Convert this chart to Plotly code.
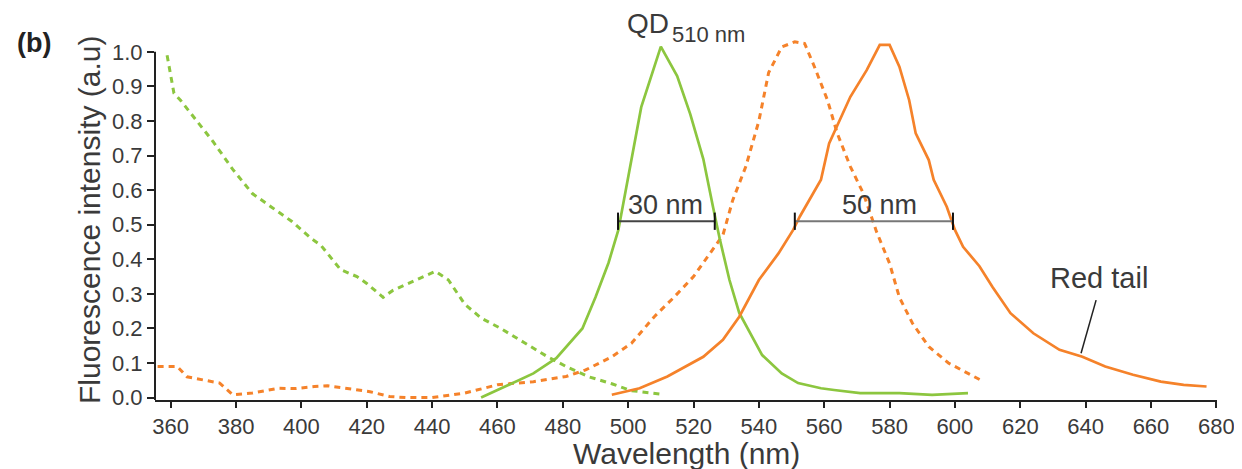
import plotly.graph_objects as go

# QD510 absorption (green dashed)
qd_abs_x = [358.9, 361, 363, 369, 373, 379, 385, 391, 397, 403, 406, 412, 417, 420, 425, 428,
            435, 441, 445, 450, 455, 461, 468, 475, 481, 488, 495, 501, 510]
qd_abs_y = [0.99, 0.88, 0.86, 0.79, 0.74, 0.66, 0.59, 0.55, 0.51, 0.46, 0.44, 0.37, 0.35, 0.33, 0.29, 0.31,
            0.34, 0.365, 0.34, 0.27, 0.23, 0.20, 0.16, 0.12, 0.09, 0.06, 0.04, 0.02, 0.01]

# QD510 emission (green solid)
qd_em_x = [455, 464, 471, 478, 486, 490, 494, 497, 504, 510, 515, 519, 523, 526, 528, 531, 534,
           541, 547, 552, 559, 563, 571, 583, 593, 604]
qd_em_y = [0.0, 0.04, 0.07, 0.114, 0.20, 0.29, 0.39, 0.485, 0.84, 1.015, 0.93, 0.82, 0.69, 0.55, 0.46,
           0.34, 0.245, 0.123, 0.07, 0.042, 0.027, 0.022, 0.013, 0.013, 0.008, 0.013]

# Rhodamine absorption (orange dashed)
rh_abs_x = [356, 362, 365, 371, 375, 379, 385, 393, 398, 404, 408, 416, 421, 427, 432, 440, 450, 460,
            471, 481, 487, 495, 501, 508, 514, 520, 525, 529, 532, 536, 540, 543, 547, 551, 554, 557,
            561, 564, 568, 572, 576, 580, 583, 587, 592, 598, 608]
rh_abs_y = [0.09, 0.09, 0.06, 0.05, 0.042, 0.008, 0.013, 0.027, 0.026, 0.032, 0.034, 0.024, 0.017, 0.003,
            0.0, 0.0, 0.013, 0.037, 0.046, 0.061, 0.08, 0.118, 0.157, 0.234, 0.29, 0.35, 0.417, 0.47,
            0.571, 0.668, 0.80, 0.94, 1.014, 1.029, 1.024, 0.957, 0.86, 0.764, 0.668, 0.59, 0.48, 0.388,
            0.29, 0.215, 0.147, 0.10, 0.05]

# Rhodamine emission (orange solid)
rh_em_x = [495, 503.5, 512, 523, 529, 534, 540, 546, 550.5, 552.5, 559, 561.5, 568, 573, 577, 580, 583,
           586, 588, 592, 593.5, 597.5, 600, 602.5, 607.5, 611.5, 617, 624, 632, 639, 646, 654.5, 663,
           670, 677]
rh_em_y = [0.008, 0.027, 0.061, 0.118, 0.167, 0.234, 0.34, 0.417, 0.485, 0.523, 0.63, 0.735, 0.87, 0.947,
           1.02, 1.02, 0.957, 0.86, 0.764, 0.687, 0.63, 0.552, 0.485, 0.436, 0.38, 0.32, 0.244, 0.186,
           0.138, 0.118, 0.09, 0.066, 0.046, 0.037, 0.032]

# FWHM markers
fwhm_qd = [496.9, 526.5]
fwhm_rh = [551.0, 599.4]
fwhm_level = 0.51

x_ticks = list(range(360, 681, 20))
y_ticks = [round(i * 0.1, 1) for i in range(11)]

GREEN = "#8CC63F"
ORANGE = "#F5822A"
TXT = "#3a3a3a"
FONT = "Liberation Sans, Arial, sans-serif"

fig = go.Figure()
fig.add_trace(go.Scatter(x=qd_abs_x, y=qd_abs_y, mode="lines",
                         line=dict(color=GREEN, width=3, dash="6px,5px")))
fig.add_trace(go.Scatter(x=rh_abs_x, y=rh_abs_y, mode="lines",
                         line=dict(color=ORANGE, width=3, dash="6px,5px")))
fig.add_trace(go.Scatter(x=qd_em_x, y=qd_em_y, mode="lines",
                         line=dict(color=GREEN, width=2.7)))
fig.add_trace(go.Scatter(x=rh_em_x, y=rh_em_y, mode="lines",
                         line=dict(color=ORANGE, width=2.7)))

shapes = []
# y-axis line from 0 to 1.0
shapes.append(dict(type="line", xref="paper", yref="y", x0=0, x1=0, y0=-0.007, y1=1.0,
                   line=dict(color="#222", width=2)))
for (a, b), col in [(fwhm_qd, "#444"), (fwhm_rh, "#777")]:
    shapes.append(dict(type="line", xref="x", yref="y", x0=a, x1=b, y0=fwhm_level, y1=fwhm_level,
                       line=dict(color=col, width=2)))
    for xv in (a, b):
        shapes.append(dict(type="line", xref="x", yref="y", x0=xv, x1=xv,
                           y0=fwhm_level - 0.025, y1=fwhm_level + 0.025,
                           line=dict(color="#111", width=2)))
# red tail pointer
shapes.append(dict(type="line", xref="x", yref="y", x0=643.2, x1=638.6, y0=0.282, y1=0.128,
                   line=dict(color="#222", width=1.5)))

# plot area (figure px): x 147..1209, y 30..392
PL, PT, PW, PH = 147, 30, 1062, 362


def px(xf):
    return (xf - PL) / PW


def py(yf):
    return (PT + PH - yf) / PH


annotations = [
    dict(text="30 nm", x=511.5, y=0.557, xref="x", yref="y", showarrow=False,
         font=dict(size=27, color=TXT, family=FONT)),
    dict(text="50 nm", x=577, y=0.557, xref="x", yref="y", showarrow=False,
         font=dict(size=27, color=TXT, family=FONT)),
    dict(text="Red tail", x=644, y=0.345, xref="x", yref="y", showarrow=False,
         font=dict(size=29, color=TXT, family=FONT)),
    dict(text="QD", x=px(640), y=py(16), xref="paper", yref="paper", showarrow=False,
         xanchor="center", yanchor="middle", font=dict(size=28, color=TXT, family=FONT)),
    dict(text="510 nm", x=px(662), y=py(27), xref="paper", yref="paper", showarrow=False,
         xanchor="left", yanchor="middle", font=dict(size=22, color=TXT, family=FONT)),
    dict(text="Rhodamine", x=588, y=1.085, xref="x", yref="y", showarrow=False,
         font=dict(size=30, color=TXT, family=FONT)),
    dict(text="<b>(b)</b>", x=px(26), y=py(35), xref="paper", yref="paper", showarrow=False,
         xanchor="center", yanchor="middle", font=dict(size=27, color="#222", family=FONT)),
    dict(text="Wavelength (nm)", x=px(678), y=py(445), xref="paper", yref="paper", showarrow=False,
         xanchor="center", yanchor="middle", font=dict(size=30, color=TXT, family=FONT)),
    dict(text="Fluorescence intensity (a.u)", x=px(82), y=py(212), xref="paper", yref="paper",
         showarrow=False, textangle=-90, xanchor="center", yanchor="middle",
         font=dict(size=30, color=TXT, family=FONT)),
]

fig.update_layout(
    width=1242, height=469,
    margin=dict(l=PL, r=1242 - PL - PW, t=PT, b=469 - PT - PH, autoexpand=False),
    paper_bgcolor="white", plot_bgcolor="white",
    showlegend=False,
    shapes=shapes,
    annotations=annotations,
    font=dict(family=FONT, color=TXT),
    xaxis=dict(range=[355.2, 680.2], tickvals=x_ticks, ticks="outside", ticklen=6, tickwidth=2,
               tickcolor="#222", showline=True, linecolor="#222", linewidth=2, showgrid=False,
               zeroline=False, tickfont=dict(size=22, color=TXT, family=FONT)),
    yaxis=dict(range=[-0.007, 1.04], tickvals=y_ticks, ticktext=[f"{v:.1f}" for v in y_ticks],
               ticks="outside", ticklen=7, tickwidth=2, tickcolor="#222", showline=False,
               showgrid=False, zeroline=False, tickfont=dict(size=22, color=TXT, family=FONT)),
)

fig.write_html("out.html")
